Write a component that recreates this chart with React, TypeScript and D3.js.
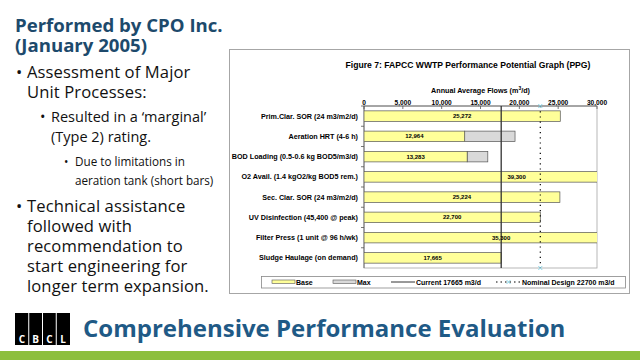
import React from "react";
import * as d3 from "d3";

const categories = [
  "Prim.Clar. SOR (24 m3/m2/d)",
  "Aeration HRT (4-6 h)",
  "BOD Loading (0.5-0.6 kg BOD5/m3/d)",
  "O2 Avail. (1.4 kgO2/kg BOD5 rem.)",
  "Sec. Clar. SOR (24 m3/m2/d)",
  "UV Disinfection (45,400 @ peak)",
  "Filter Press (1 unit @ 96 h/wk)",
  "Sludge Haulage (on demand)",
];
const baseValues = [25272, 12964, 13283, 39300, 25224, 22700, 35300, 17665];
const maxValues: (number | null)[] = [null, 19446, 15940, null, null, null, null, null];
const xTicks = [0, 5000, 10000, 15000, 20000, 25000, 30000];
const currentFlow = 17665;
const nominalDesign = 22700;

export default function App() {
  const plot = { left: 364, right: 597, top: 106, bottom: 268 };
  const x = d3.scaleLinear().domain([0, 30000]).range([plot.left, plot.right]);
  const y = d3
    .scaleBand<string>()
    .domain(categories)
    .range([plot.top, plot.bottom])
    .paddingInner(0.48)
    .paddingOuter(0.24);
  const fmt = d3.format(",");
  const chartFont = "'Liberation Sans', Arial, sans-serif";
  const sans = "'Open Sans', 'Noto Sans', sans-serif";
  const navy = "#1d4a6c";
  const bandStep = (plot.bottom - plot.top) / categories.length;

  return (
    <svg
      width={640}
      height={360}
      style={{ position: "absolute", left: 0, top: 0, background: "#fff" }}
    >
      <rect x={0} y={0} width={640} height={360} fill="#fff" />
      {/* Left text */}
      <g fontFamily={sans}>
        <text fontSize={18.6} fontWeight={700} fill={navy}>
          <tspan x={15} y={32}>Performed by CPO Inc.</tspan>
          <tspan x={15} y={52}>(January 2005)</tspan>
        </text>
        <g fill="#111">
          <text x={16} y={78} fontSize={16.6}>•</text>
          <text fontSize={16.6} letterSpacing={0.1}>
            <tspan x={27} y={78}>Assessment of Major</tspan>
            <tspan x={27} y={98}>Unit Processes:</tspan>
          </text>
          <text x={40} y={122} fontSize={14.5}>•</text>
          <text fontSize={14.5}>
            <tspan x={51} y={122}>Resulted in a ‘marginal’</tspan>
            <tspan x={51} y={142}>(Type 2) rating.</tspan>
          </text>
          <text x={64} y={166} fontSize={11.7}>•</text>
          <text fontSize={11.7}>
            <tspan x={75} y={166}>Due to limitations in</tspan>
            <tspan x={75} y={185}>aeration tank (short bars)</tspan>
          </text>
          <text x={16} y={212} fontSize={16.6}>•</text>
          <text fontSize={16.6} letterSpacing={0.1}>
            <tspan x={27} y={212}>Technical assistance</tspan>
            <tspan x={27} y={232}>followed with</tspan>
            <tspan x={27} y={252}>recommendation to</tspan>
            <tspan x={27} y={272}>start engineering for</tspan>
            <tspan x={27} y={292}>longer term expansion.</tspan>
          </text>
        </g>
      </g>

      {/* Chart frame */}
      <rect x={229.5} y={49.5} width={400} height={244} fill="#fff" stroke="#a6a6a6" strokeWidth={1} />
      <g fontFamily={chartFont} fontWeight={700} fill="#000">
        <text x={468} y={68} fontSize={8.6} textAnchor="middle">
          Figure 7: FAPCC WWTP Performance Potential Graph (PPG)
        </text>
        <text x={(plot.left + plot.right) / 2} y={93} fontSize={7.2} textAnchor="middle">
          Annual Average Flows (m<tspan dy={-3} fontSize={5}>3</tspan>
          <tspan dy={3}>/d)</tspan>
        </text>
        {xTicks.map((t) => (
          <text key={t} x={x(t)} y={105} fontSize={6.6} textAnchor="middle">
            {fmt(t)}
          </text>
        ))}
      </g>
      <defs>
        <clipPath id="plotClip">
          <rect x={plot.left} y={plot.top - 1} width={plot.right - plot.left} height={plot.bottom - plot.top + 2} />
        </clipPath>
      </defs>
      {/* plot border */}
      <rect
        x={plot.left}
        y={plot.top}
        width={plot.right - plot.left}
        height={plot.bottom - plot.top}
        fill="none"
        stroke="#a6a6a6"
        strokeWidth={0.8}
      />
      {/* axes */}
      <line x1={plot.left} x2={plot.right} y1={plot.top} y2={plot.top} stroke="#555" strokeWidth={0.8} />
      <line x1={plot.left} x2={plot.left} y1={plot.top} y2={plot.bottom} stroke="#555" strokeWidth={0.8} />
      {xTicks.map((t) => (
        <line key={t} x1={x(t)} x2={x(t)} y1={plot.top} y2={plot.top + 3} stroke="#555" strokeWidth={0.8} />
      ))}
      {categories.map((c, i) => (
        <line
          key={c}
          x1={plot.left - 3}
          x2={plot.left}
          y1={plot.top + i * bandStep}
          y2={plot.top + i * bandStep}
          stroke="#555"
          strokeWidth={0.8}
        />
      ))}
      {/* bars */}
      <g clipPath="url(#plotClip)">
        {categories.map((c, i) => {
          const mv = maxValues[i];
          return (
            <g key={c}>
              {mv !== null && (
                <rect
                  x={x(baseValues[i])}
                  y={y(c)!}
                  width={x(mv) - x(baseValues[i])}
                  height={y.bandwidth()}
                  fill="#d9d9d9"
                  stroke="#555"
                  strokeWidth={0.7}
                />
              )}
              <rect
                x={x(0)}
                y={y(c)!}
                width={x(baseValues[i]) - x(0)}
                height={y.bandwidth()}
                fill="#ffff99"
                stroke="#555"
                strokeWidth={0.7}
              />
            </g>
          );
        })}
      </g>
      {/* current line */}
      <line
        x1={x(currentFlow)}
        x2={x(currentFlow)}
        y1={plot.top}
        y2={plot.bottom}
        stroke="#333"
        strokeWidth={1.3}
      />
      {/* nominal design */}
      <line
        x1={x(nominalDesign)}
        x2={x(nominalDesign)}
        y1={plot.top}
        y2={plot.bottom}
        stroke="#000"
        strokeWidth={1.2}
        strokeDasharray="1.2 4"
      />
      {[plot.top, plot.bottom].map((yy) => (
        <path
          key={yy}
          d={`M${x(nominalDesign) - 2},${yy - 2}L${x(nominalDesign) + 2},${yy + 2}M${x(nominalDesign) - 2},${yy + 2}L${x(nominalDesign) + 2},${yy - 2}`}
          stroke="#7fd3e6"
          strokeWidth={0.9}
        />
      ))}
      {/* value labels */}
      <g fontFamily={chartFont} fontWeight={700} fontSize={6} fill="#000">
        {categories.map((c, i) => (
          <text key={c} x={x(baseValues[i] / 2)} y={y(c)! + y.bandwidth() / 2 + 2} textAnchor="middle">
            {fmt(baseValues[i])}
          </text>
        ))}
      </g>
      {/* category labels */}
      <g fontFamily={chartFont} fontWeight={700} fontSize={7.2} fill="#000">
        {categories.map((c) => (
          <text key={c} x={358} y={y(c)! + y.bandwidth() / 2 + 2.5} textAnchor="end">
            {c}
          </text>
        ))}
      </g>
      {/* legend */}
      <rect x={261.5} y={276.5} width={364} height={11.5} fill="#fff" stroke="#888" strokeWidth={0.8} />
      <g fontFamily={chartFont} fontWeight={700} fontSize={7} fill="#000">
        <rect x={272} y={280} width={23} height={3.5} fill="#ffff99" stroke="#555" strokeWidth={0.6} />
        <text x={296} y={284.6}>Base</text>
        <rect x={333} y={280} width={23} height={3.5} fill="#d9d9d9" stroke="#555" strokeWidth={0.6} />
        <text x={357} y={284.6}>Max</text>
        <line x1={391} x2={415} y1={282} y2={282} stroke="#333" strokeWidth={1} />
        <text x={416} y={284.6}>Current 17665 m3/d</text>
        <line x1={496} x2={521} y1={282} y2={282} stroke="#000" strokeWidth={1} strokeDasharray="1.5 3" />
        <path d="M506.5,280L510.5,284M506.5,284L510.5,280" stroke="#7fd3e6" strokeWidth={0.9} />
        <text x={522} y={284.6}>Nominal Design 22700 m3/d</text>
      </g>

      {/* footer */}
      <rect x={15} y={313} width={55} height={32} fill="#000" />
      {[0, 1, 2, 3].map((i) => (
        <g key={i}>
          {i > 0 && <line x1={15 + i * 13.75} x2={15 + i * 13.75} y1={313} y2={345} stroke="#fff" strokeWidth={1} />}
          <text
            x={15 + i * 13.75 + 6.9}
            y={343}
            fontFamily={sans}
            fontWeight={700}
            fontSize={10}
            fill="#fff"
            textAnchor="middle"
          >
            {"CBCL"[i]}
          </text>
        </g>
      ))}
      <text x={83} y={337} fontFamily={sans} fontWeight={700} fontSize={24} fill="#1f5a86">
        Comprehensive Performance Evaluation
      </text>
      <rect x={0} y={351} width={640} height={9} fill="#8dbf3e" />
    </svg>
  );
}
